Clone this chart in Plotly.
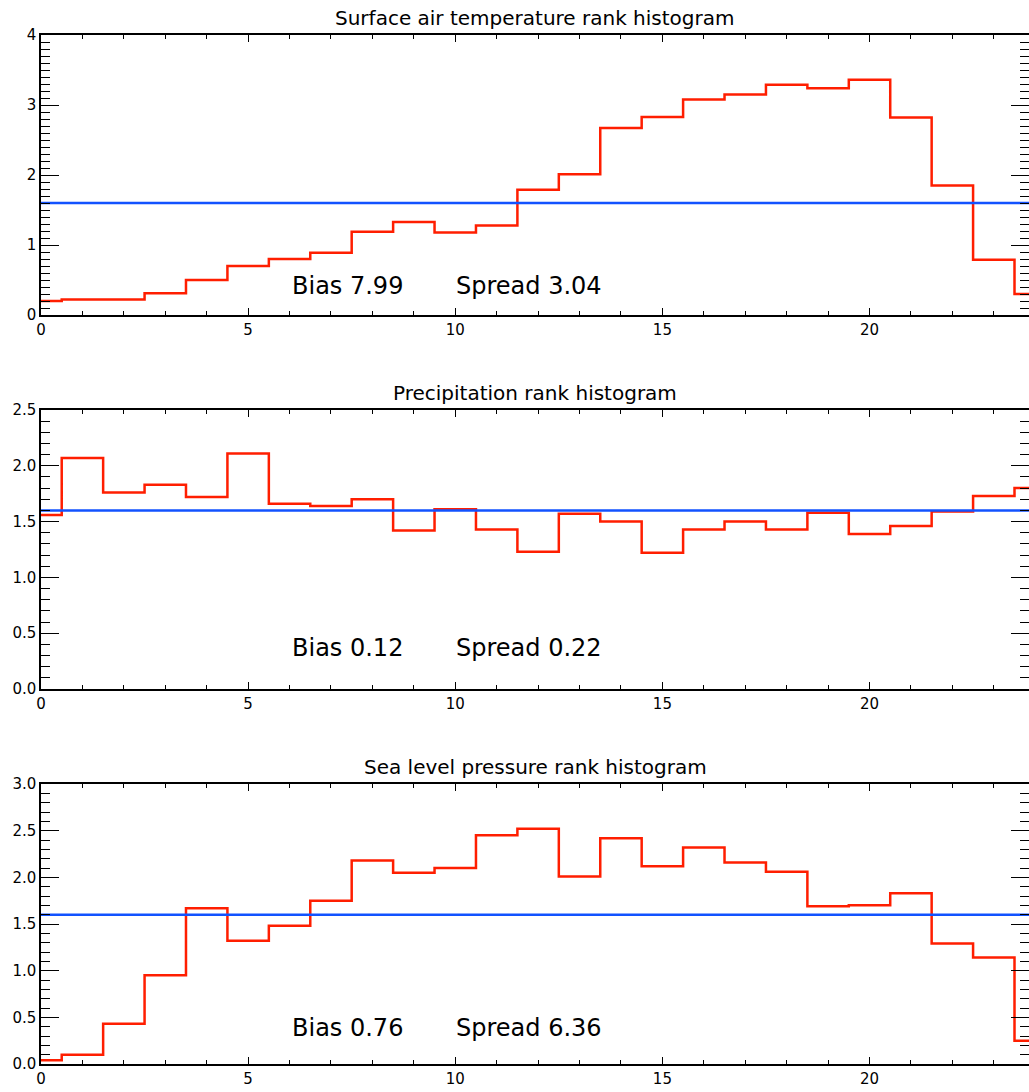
import plotly.graph_objects as go
from plotly.subplots import make_subplots

ranks = list(range(25))

temp_vals = [0.20, 0.22, 0.22, 0.31, 0.50, 0.70, 0.80, 0.89, 1.19, 1.33, 1.18, 1.28,
             1.79, 2.01, 2.67, 2.83, 3.08, 3.15, 3.29, 3.24, 3.36, 2.82, 1.85, 0.79, 0.30]
precip_vals = [1.56, 2.07, 1.76, 1.83, 1.72, 2.11, 1.66, 1.64, 1.70, 1.42, 1.61, 1.43,
               1.23, 1.57, 1.50, 1.22, 1.43, 1.50, 1.43, 1.58, 1.39, 1.46, 1.59, 1.73, 1.80]
slp_vals = [0.04, 0.10, 0.43, 0.95, 1.67, 1.32, 1.48, 1.75, 2.18, 2.05, 2.10, 2.45,
            2.52, 2.01, 2.42, 2.12, 2.32, 2.16, 2.06, 1.69, 1.70, 1.83, 1.29, 1.14, 0.25]
expected = 1.6

titles = ["Surface air temperature rank histogram",
          "Precipitation rank histogram",
          "Sea level pressure rank histogram"]
bias = ["7.99", "0.12", "0.76"]
spread = ["3.04", "0.22", "6.36"]
y_ranges = [[0, 4], [0, 2.5], [0, 3]]
y_dticks = [1, 0.5, 0.5]
y_minor = [0.1, 0.1, 0.1]
y_fmt = ["d", ".1f", ".1f"]
text_y = [0.41, 0.37, 0.39]

series = [temp_vals, precip_vals, slp_vals]

W, H = 1029, 1092
ml, mr, mt, mb = 41, 0, 35, 28
ph = H - mt - mb
tops = [35, 410, 784]
bots = [315, 689, 1064]

fig = make_subplots(rows=3, cols=1)
font = "DejaVu Sans"

for i in range(3):
    r = i + 1
    fig.add_trace(go.Scatter(x=ranks, y=series[i], mode="lines", line_shape="hvh",
                             line=dict(color="#FF1E00", width=2.5), showlegend=False,
                             cliponaxis=True), row=r, col=1)
    fig.add_trace(go.Scatter(x=[-1, 30], y=[expected, expected], mode="lines",
                             line=dict(color="#1252FF", width=2.5), showlegend=False),
                  row=r, col=1)
    d0 = 1 - (bots[i] - mt) / ph
    d1 = 1 - (tops[i] - mt) / ph
    fig.update_yaxes(row=r, col=1, domain=[d0, d1], range=y_ranges[i], dtick=y_dticks[i],
                     tick0=0, tickformat=y_fmt[i], ticks="inside", ticklen=18, tickwidth=1.3,
                     tickcolor="black", showline=True, linecolor="black", linewidth=1.5,
                     mirror="ticks", showgrid=False, zeroline=False, automargin=False,
                     tickfont=dict(family=font, size=15, color="black"),
                     minor=dict(dtick=y_minor[i], ticks="inside", ticklen=9,
                                tickcolor="black", tickwidth=1.2, showgrid=False))
    fig.update_xaxes(row=r, col=1, range=[0, 23.85], dtick=5, tick0=0, ticks="inside",
                     ticklen=7, tickwidth=1.3, tickcolor="black", showline=True,
                     linecolor="black", linewidth=1.5, mirror="ticks", showgrid=False,
                     zeroline=False, automargin=False,
                     tickfont=dict(family=font, size=15, color="black"),
                     minor=dict(dtick=1, ticks="inside", ticklen=4, tickcolor="black",
                                tickwidth=1.2, showgrid=False))
    xa = "x" if i == 0 else f"x{r}"
    ya = "y" if i == 0 else f"y{r}"
    fig.add_annotation(text=titles[i], xref=f"{xa} domain", yref=f"{ya} domain",
                       x=0.5, y=1, yanchor="bottom", xanchor="center", yshift=3,
                       showarrow=False, font=dict(family=font, size=20, color="black"))
    fig.add_annotation(text=f"Bias {bias[i]}", xref=xa, yref=ya, x=6.0, y=text_y[i],
                       xanchor="left", yanchor="middle", showarrow=False,
                       font=dict(family=font, size=24, color="black"))
    fig.add_annotation(text=f"Spread {spread[i]}", xref=xa, yref=ya, x=9.97, y=text_y[i],
                       xanchor="left", yanchor="middle", showarrow=False,
                       font=dict(family=font, size=24, color="black"))

fig.update_layout(width=W, height=H, margin=dict(l=ml, r=mr, t=mt, b=mb),
                  plot_bgcolor="white", paper_bgcolor="white")

fig.write_html("out.html", config={"displayModeBar": False},
               post_script="document.body.style.margin='0';document.body.style.overflow='hidden';")
